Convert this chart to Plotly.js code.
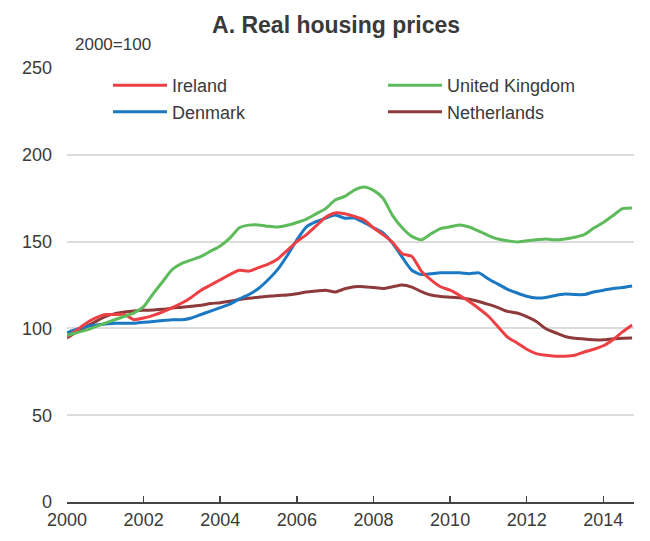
<!DOCTYPE html>
<html>
<head>
<meta charset="utf-8">
<script src="https://cdn.plot.ly/plotly-3.0.1.min.js"></script>
<style>html,body{margin:0;padding:0;background:#fff;}#chart{width:650px;height:541px;}</style>
</head>
<body>
<div id="chart"></div>
<script>
// Quarterly, 2000Q1 .. 2014Q4 (index 2000=100)
const quarters = [];
for (let y = 2000; y <= 2014; y++) { for (let q = 0; q < 4; q++) quarters.push(y + q * 0.25); }

const ireland = [95, 99, 103, 106, 108, 108, 108, 105, 106, 107.5, 109.5, 112, 114.6, 118, 122, 125,
  128, 131, 133.5, 133, 135, 137, 140, 145, 150, 154, 159, 164, 166.5, 166, 164.5, 162.5,
  158, 154, 149.5, 143, 141.5, 133, 128, 124, 122, 119, 115.5, 111.5, 107, 101, 95, 91.6,
  88, 85.5, 84.5, 84, 84, 84.5, 86.4, 88, 90, 93.5, 98, 102];

const unitedKingdom = [96, 97.5, 99, 101, 103, 105, 107, 109, 112.5, 120, 127, 134, 137.5, 139.5, 141.5, 144.5,
  147.5, 152, 158, 159.5, 159.6, 158.8, 158.4, 159.4, 161, 163, 166, 169, 174, 176, 179.7, 181.5,
  179.5, 175, 165, 158, 153, 151, 154.5, 157.5, 158.5, 159.6, 158.4, 156, 153.5, 151.5, 150.5, 149.8,
  150.5, 151, 151.5, 151, 151.5, 152.5, 154, 157.8, 161, 165, 169, 169.4];

const denmark = [97.5, 99.5, 101, 102, 102.5, 103, 103, 103, 103.5, 104, 104.5, 105, 105, 106, 108, 110,
  112, 114, 117, 119.5, 123, 128, 134, 142, 151, 158.5, 161.5, 163.5, 165.3, 163.5, 163.6, 161,
  158, 155, 149, 141, 133.5, 131, 131.5, 132, 132, 132, 131.5, 132, 128.5, 125.5, 122.5, 120.4,
  118.5, 117.5, 117.8, 119, 119.8, 119.5, 119.5, 121, 122, 123, 123.5, 124.4];

const netherlands = [94.5, 98, 101, 104, 106.8, 108.5, 109.4, 110, 110.4, 110.6, 111, 111.7, 112.2, 112.8, 113.4, 114.3,
  114.8, 115.6, 116.6, 117.4, 118, 118.5, 119, 119.3, 120, 121, 121.5, 122, 121, 122.8, 124, 124,
  123.5, 123, 124, 125, 123.8, 121.2, 119.2, 118.4, 118, 117.6, 116.8, 115.5, 113.8, 112, 109.8, 108.9,
  106.8, 104, 99.8, 97.5, 95.3, 94.3, 93.9, 93.5, 93.4, 94, 94.3, 94.5];

const seriesNames = ["Ireland", "United Kingdom", "Denmark", "Netherlands"];
const seriesColors = ["#ED4045", "#5DBB5B", "#1B78C2", "#8E3A3A"];
const seriesValues = [ireland, unitedKingdom, denmark, netherlands];

const xTickVals = [2000, 2002, 2004, 2006, 2008, 2010, 2012, 2014];
const xTickText = ["2000", "2002", "2004", "2006", "2008", "2010", "2012", "2014"];
const yTickVals = [0, 50, 100, 150, 200, 250];

const FONT = "'Liberation Sans', Arial, sans-serif";
const TXT = "#3a3a3a";

// draw order: Netherlands at back
const drawOrder = [3, 2, 0, 1];
const traces = seriesNames.map((name, i) => ({
  type: "scatter", mode: "lines", name: name,
  x: quarters, y: seriesValues[i],
  line: { color: seriesColors[i], width: 3, shape: "spline", smoothing: 0.6 },
  legendrank: i + 1
}));
const data = drawOrder.map(i => traces[i]);

const layout = {
  width: 650, height: 541,
  margin: { l: 67, r: 16, t: 68, b: 39, autoexpand: false },
  paper_bgcolor: "#fff", plot_bgcolor: "#fff",
  font: { family: FONT, size: 18, color: TXT },
  title: {
    text: "<b>A. Real housing prices</b>",
    font: { family: FONT, size: 23, color: TXT },
    x: 0.517, xanchor: "center", xref: "container",
    y: 0.953, yanchor: "middle", yref: "container"
  },
  showlegend: true,
  legend: {
    orientation: "h", x: 0.0723, xanchor: "left", y: 1.002, yanchor: "top",
    entrywidth: 206, entrywidthmode: "pixels",
    font: { family: FONT, size: 18, color: TXT },
    bgcolor: "rgba(0,0,0,0)", itemwidth: 54, traceorder: "normal"
  },
  xaxis: {
    range: [2000, 2014.8], tickvals: xTickVals, ticktext: xTickText,
    showgrid: false, zeroline: false,
    showline: true, linecolor: "#444", linewidth: 2,
    ticks: "inside", ticklen: 6, tickwidth: 1.5, tickcolor: "#444",
    tickfont: { family: FONT, size: 18, color: TXT }
  },
  yaxis: {
    range: [0, 250], tickvals: yTickVals,
    showgrid: true, gridcolor: "#dcdcdc", gridwidth: 2,
    zeroline: false, showline: false, ticks: "",
    ticklabelstandoff: 14,
    tickfont: { family: FONT, size: 18, color: TXT }
  },
  annotations: [{
    text: "2000=100", xref: "paper", yref: "paper",
    x: 0.011, y: 1.053, xanchor: "left", yanchor: "middle",
    showarrow: false, font: { family: FONT, size: 17, color: TXT }
  }]
};

Plotly.newPlot("chart", data, layout, { displayModeBar: false, staticPlot: true });
</script>
</body>
</html>
